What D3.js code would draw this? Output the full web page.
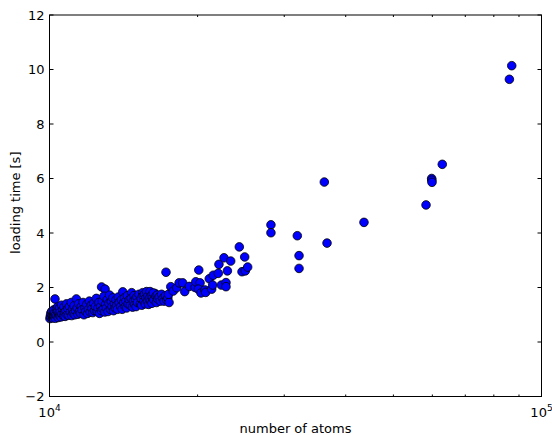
<!DOCTYPE html>
<html>
<head>
<meta charset="utf-8">
<script src="https://cdn.jsdelivr.net/npm/d3@7"></script>
<style>
  body { margin: 0; background: #fff; }
  text { font-family: "DejaVu Sans", sans-serif; fill: #000; }
</style>
</head>
<body>
<svg id="chart" width="552" height="435"></svg>
<script>
// number of atoms vs loading time [s]
const atoms = [
  10020, 10040, 10060, 10080, 10100, 10130, 10150, 10180, 10200, 10230, 10250, 10280, 10300, 10330, 10350,
  10380, 10400, 10420, 10450, 10480, 10490, 10260,
  10520, 10550, 10580, 10600, 10640, 10680, 10700, 10730, 10760, 10800, 10830, 10860, 10900, 10940, 10980,
  11030, 11070, 11100, 11140, 11180, 11220, 11260, 11300, 11340, 11380, 11420, 11460, 11500,
  11560, 11600, 11650, 11700, 11750, 11800, 11850, 11900, 11950, 12000, 12050,
  12100, 12150, 12200, 12250, 12300, 12350, 12400, 12450, 12500, 12550, 12600, 12640,
  12760, 12970, 12700, 12750, 12800, 12850, 12900, 12950, 13000, 13050, 13100, 13150, 13200, 13250,
  13300, 13350, 13400, 13450, 13500, 13550, 13600, 13650, 13700, 13750, 13800, 13850,
  14090, 13950, 14000, 14050, 14150, 14200, 14250, 14300, 14350, 14400, 14450, 14520,
  14690, 14600, 14650, 14750, 14800, 14850, 14900, 14950, 15000, 15050, 15100, 15200,
  15470, 15300, 15350, 15400, 15500, 15550, 15600, 15650, 15700, 15750, 15800, 15850, 15900, 15950,
  16010, 16390, 16050, 16100, 16150, 16200, 16250, 16300, 16450, 16500, 16550, 16600, 16700,
  16800, 16900, 17000, 17100, 17250, 17200, 17300, 17400, 17500, 17450,
  17640, 17850, 18140, 18340, 18650, 18830, 19240, 19760, 19830, 20110, 20230, 20070, 20320, 20700, 20770,
  21120, 21360, 21460, 21520, 22030, 22100, 22350, 22630, 22840, 22840, 22990, 23350,
  24310, 24620, 25000, 25280, 24930, 28190, 28190, 31890, 32150, 32150, 36190, 36650, 43570,
  58250, 59810, 59850, 59900, 62850, 86040, 87000
];
const seconds = [
  0.86, 0.95, 1.05, 0.90, 1.12, 0.98, 0.88, 1.04, 1.18, 0.93, 1.08, 0.87, 1.00, 1.22, 0.95,
  1.12, 1.30, 0.90, 1.05, 1.25, 0.97, 1.58,
  1.10, 0.92, 1.35, 1.02, 1.20, 0.96, 1.28, 1.08, 0.94, 1.15, 1.40, 1.00, 1.22, 0.98, 1.30,
  1.10, 1.45, 0.97, 1.20, 1.05, 1.33, 1.00, 1.15, 1.58, 1.25, 1.02, 1.40, 1.12,
  1.05, 1.30, 1.18, 1.45, 1.00, 1.25, 1.12, 1.38, 1.05, 1.20, 1.50,
  1.10, 1.35, 1.22, 1.08, 1.42, 1.15, 1.30, 1.60, 1.12, 1.25, 1.45, 1.05,
  2.02, 1.94, 1.30, 1.15, 1.50, 1.20, 1.68, 1.10, 1.38, 1.25, 1.55, 1.12, 1.42, 1.72,
  1.20, 1.48, 1.30, 1.62, 1.15, 1.40, 1.25, 1.55, 1.35, 1.20, 1.65, 1.45,
  1.84, 1.30, 1.55, 1.20, 1.45, 1.62, 1.30, 1.50, 1.25, 1.70, 1.40, 1.55,
  1.81, 1.35, 1.60, 1.28, 1.50, 1.70, 1.38, 1.58, 1.30, 1.65, 1.45, 1.75,
  1.81, 1.40, 1.60, 1.35, 1.70, 1.50, 1.75, 1.40, 1.62, 1.85, 1.50, 1.68, 1.38, 1.60,
  1.85, 1.78, 1.50, 1.70, 1.42, 1.62, 1.80, 1.55, 1.68, 1.45, 1.72, 1.58, 1.65,
  1.50, 1.75, 1.60, 1.50, 2.56, 1.70, 1.55, 1.62, 1.45, 1.75,
  2.03, 1.87, 1.99, 2.17, 2.17, 1.85, 2.04, 2.00, 2.21, 2.64, 2.17, 1.94, 1.80, 1.91, 1.82,
  2.32, 1.94, 2.09, 2.45, 2.52, 2.85, 2.09, 3.09, 2.18, 2.03, 2.61, 2.97,
  3.49, 2.58, 2.61, 2.75, 3.12, 4.30, 4.01, 3.90, 3.17, 2.70, 5.87, 3.63, 4.39,
  5.03, 6.00, 5.94, 5.86, 6.52, 9.64, 10.14
];
const yTicks = [-2, 0, 2, 4, 6, 8, 10, 12];
const xMajor = [1e4, 1e5];
const xMinor = [2e4, 3e4, 4e4, 5e4, 6e4, 7e4, 8e4, 9e4];

const points = atoms.map((a, i) => ({ atoms: a, time: seconds[i] }));

const svg = d3.select('#chart');
const margin = { top: 15, right: 10.5, bottom: 38.5, left: 49.5 };
const width = +svg.attr("width") - margin.left - margin.right;
const height = +svg.attr("height") - margin.top - margin.bottom;

const x = d3.scaleLog().domain([1e4, 1e5]).range([0, width]);
const y = d3.scaleLinear().domain([-2, 12]).range([height, 0]);

const g = svg.append("g")
    .attr("transform", "translate(" + margin.left + "," + margin.top + ")");

// points
g.selectAll("circle")
    .data(points)
    .enter().append("circle")
    .attr("cx", d => x(d.atoms))
    .attr("cy", d => y(d.time))
    .attr("r", 4.3)
    .attr("fill", "#0000ff")
    .attr("stroke", "#000")
    .attr("stroke-width", 0.8);

// frame
g.append("rect")
    .attr("width", width)
    .attr("height", height)
    .attr("fill", "none")
    .attr("stroke", "#000")
    .attr("stroke-width", 1);

// y ticks, inward on both sides
const yTickG = g.append("g").selectAll("g").data(yTicks).enter().append("g")
    .attr("transform", d => "translate(0," + y(d) + ")");
yTickG.append("line").attr("x1", 0).attr("x2", 4).attr("stroke", "#000");
yTickG.append("line").attr("x1", width).attr("x2", width - 4).attr("stroke", "#000");
yTickG.append("text")
    .attr("x", -5)
    .attr("dy", "0.35em")
    .attr("text-anchor", "end")
    .attr("font-size", 13)
    .text(d => d < 0 ? "\u2212" + Math.abs(d) : d);

// x ticks (log)
g.append("g").selectAll("line").data(xMinor).enter().append("line")
    .attr("x1", d => x(d)).attr("x2", d => x(d))
    .attr("y1", height).attr("y2", height - 2).attr("stroke", "#000");
g.append("g").selectAll("line").data(xMinor).enter().append("line")
    .attr("x1", d => x(d)).attr("x2", d => x(d))
    .attr("y1", 0).attr("y2", 2).attr("stroke", "#000");

const xLab = g.append("g").selectAll("text").data(xMajor).enter().append("text")
    .attr("x", d => x(d))
    .attr("y", height + 20)
    .attr("text-anchor", "middle")
    .attr("font-size", 13);
xLab.append("tspan").text("10");
xLab.append("tspan")
    .attr("dy", -6)
    .attr("font-size", 9)
    .text(d => Math.round(Math.log10(d)));

// axis labels
g.append("text")
    .attr("x", width / 2)
    .attr("y", height + 36)
    .attr("text-anchor", "middle")
    .attr("font-size", 13)
    .text("number of atoms");

g.append("text")
    .attr("transform", "rotate(-90)")
    .attr("x", -height / 2 + 3)
    .attr("y", -margin.left + 19.5)
    .attr("text-anchor", "middle")
    .attr("font-size", 13)
    .text("loading time [s]");
</script>
</body>
</html>
